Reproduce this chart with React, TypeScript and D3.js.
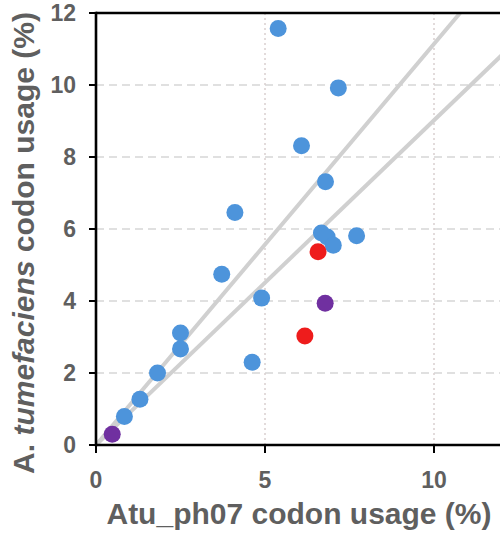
import React from "react";
import * as d3 from "d3";

const blueX = [5.39, 7.17, 6.08, 6.79, 4.11, 3.72, 4.9, 2.5, 2.5, 1.82, 1.3, 0.84, 4.62, 6.67, 6.84, 7.02, 7.71];
const blueY = [11.57, 9.92, 8.31, 7.31, 6.46, 4.74, 4.08, 3.11, 2.67, 2.0, 1.27, 0.79, 2.3, 5.89, 5.78, 5.55, 5.81];
const redX = [6.57, 6.18];
const redY = [5.37, 3.03];
const purpleX = [0.48, 6.78];
const purpleY = [0.3, 3.94];
const fitSlopes = [1.114, 0.902];
const xTicks = [0, 5, 10];
const yTicks = [0, 2, 4, 6, 8, 10, 12];

const W = 500;
const H = 544;
const left = 96;
const top = 13;
const bottom = 445;
const xRight = 96 + 12 * 33.8;

export default function App() {
  const x = d3.scaleLinear().domain([0, 12]).range([left, xRight]);
  const y = d3.scaleLinear().domain([0, 12]).range([bottom, top]);
  const gray = "#5f5f5f";
  const font = "'Liberation Sans', Arial, sans-serif";

  const fitLine = (s: number) => {
    const xEnd = Math.min(12, 12 / s);
    return d3.line<[number, number]>()
      .x((d) => x(d[0]))
      .y((d) => y(d[1]))([[0, 0], [xEnd, xEnd * s]]) as string;
  };

  const dots = (xs: number[], ys: number[], color: string, key: string) =>
    xs.map((v, i) => (
      <circle key={key + i} cx={x(v)} cy={y(ys[i])} r={8.5} fill={color} />
    ));

  return (
    <svg width={W} height={H} style={{ position: "absolute", left: 0, top: 0, background: "#fff" }}>
      <defs>
        <clipPath id="plot">
          <rect x={left} y={top} width={xRight - left} height={bottom - top} />
        </clipPath>
      </defs>
      {/* grid */}
      {yTicks.filter((t) => t > 0 && t < 12).map((t) => (
        <line key={"gy" + t} x1={left} x2={xRight} y1={y(t)} y2={y(t)} stroke="#d6d6d6" strokeWidth={1.5} strokeDasharray="8 5" />
      ))}
      {xTicks.filter((t) => t > 0).map((t) => (
        <line key={"gx" + t} x1={x(t)} x2={x(t)} y1={top} y2={bottom} stroke="#d9cfcf" strokeWidth={1.5} strokeDasharray="2 3" />
      ))}
      {/* fit lines */}
      <g clipPath="url(#plot)">
        {fitSlopes.map((s, i) => (
          <path key={"fit" + i} d={fitLine(s)} stroke="#d0d0d0" strokeWidth={4} fill="none" />
        ))}
      </g>
      {/* dots */}
      {dots(blueX, blueY, "#4d94db", "b")}
      {dots(redX, redY, "#ee1c1c", "r")}
      {dots(purpleX, purpleY, "#7030a0", "p")}
      {/* axes */}
      <line x1={left} x2={left} y1={top - 1.3} y2={bottom + 1.3} stroke="#000" strokeWidth={2.6} />
      <line x1={left} x2={xRight} y1={bottom} y2={bottom} stroke="#000" strokeWidth={2.6} />
      <line x1={left} x2={xRight} y1={top} y2={top} stroke="#000" strokeWidth={2.6} />
      <line x1={xRight} x2={xRight} y1={top} y2={bottom} stroke="#000" strokeWidth={2.6} />
      {yTicks.map((t) => (
        <g key={"yt" + t}>
          <line x1={left - 7} x2={left} y1={y(t)} y2={y(t)} stroke="#000" strokeWidth={2} />
          <text x={left - 20} y={y(t)} dy="0.35em" textAnchor="end" fontFamily={font} fontWeight="bold" fontSize={23} fill={gray}>
            {t}
          </text>
        </g>
      ))}
      {xTicks.map((t) => (
        <g key={"xt" + t}>
          <line x1={x(t)} x2={x(t)} y1={bottom} y2={bottom + 8} stroke="#000" strokeWidth={2} />
          <text x={x(t)} y={488} textAnchor="middle" fontFamily={font} fontWeight="bold" fontSize={23} fill={gray}>
            {t}
          </text>
        </g>
      ))}
      <text x={299} y={524} textAnchor="middle" fontFamily={font} fontWeight="bold" fontSize={30} fill={gray}>
        Atu_ph07 codon usage (%)
      </text>
      <text transform={`translate(34,243) rotate(-90)`} textAnchor="middle" fontFamily={font} fontWeight="bold" fontSize={30} fill={gray}>
        A. <tspan fontStyle="italic">tumefaciens</tspan> codon usage (%)
      </text>
    </svg>
  );
}
